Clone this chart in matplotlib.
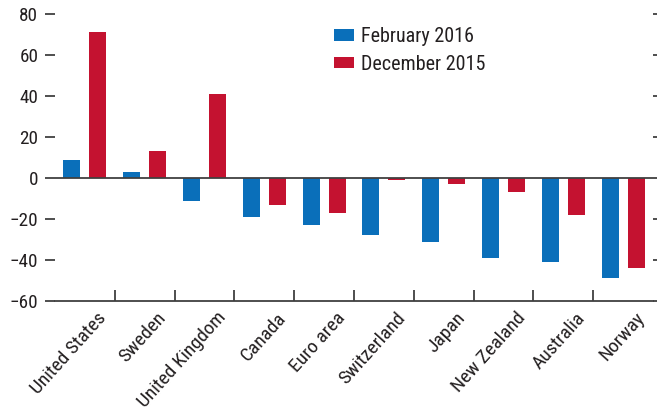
import matplotlib
matplotlib.use("Agg")
import matplotlib.pyplot as plt
import matplotlib.transforms as mtransforms
import numpy as np

categories = ["United States", "Sweden", "United Kingdom", "Canada", "Euro area",
              "Switzerland", "Japan", "New Zealand", "Australia", "Norway"]
feb_2016 = [9, 3, -11, -19, -23, -28, -31, -39, -41, -49]
dec_2015 = [71, 13, 41, -13, -17, -1, -3, -7, -18, -44]
yticks = [-60, -40, -20, 0, 20, 40, 60, 80]

plt.rcParams['font.family'] = ['Roboto Condensed', 'DejaVu Sans']
BLUE = "#0a6fba"
RED = "#c41230"
TXT = "#231f20"
LINE = "#404040"

fig = plt.figure(figsize=(6.57, 4.17), dpi=100)
ax = fig.add_axes([55/657, 1-301/417, (653-55)/657, (301-14)/417])

x = np.arange(len(categories))
w = 0.285
off = 0.217
ax.bar(x - off, feb_2016, w, color=BLUE, label="February 2016", zorder=2)
ax.bar(x + off, dec_2015, w, color=RED, label="December 2015", zorder=2)
ax.axhline(0, color=LINE, lw=1.3, zorder=3)

ax.set_xlim(-0.5, len(categories) - 0.5)
ax.set_ylim(-60, 80)

for s in ["top", "left", "right"]:
    ax.spines[s].set_visible(False)
ax.spines["bottom"].set_color(LINE)
ax.spines["bottom"].set_linewidth(1.3)

ax.set_yticks(yticks)
ax.tick_params(axis='y', which='major', direction='out', length=7, width=1.3,
               color=LINE, labelsize=13.8, labelcolor=TXT, pad=5, right=True)

ax.set_xticks(x)
ax.set_xticks(x[:-1] + 0.5, minor=True)
ax.tick_params(axis='x', which='major', length=0, labelsize=14, labelcolor=TXT, pad=2)
ax.tick_params(axis='x', which='minor', direction='in', length=8, width=1.3, color=LINE)
ax.set_xticklabels(categories, rotation=48, ha='right', rotation_mode='anchor')
shift = mtransforms.ScaledTranslation(12/100, -5/100, fig.dpi_scale_trans)
for lab in ax.get_xticklabels():
    lab.set_transform(lab.get_transform() + shift)

leg = ax.legend(loc='upper left', bbox_to_anchor=(334/657, 1-27/417),
                bbox_transform=fig.transFigure, frameon=False, fontsize=14.5,
                handlelength=1.0, handleheight=0.5, handletextpad=0.35,
                labelspacing=0.44, borderaxespad=0, borderpad=0)
for t in leg.get_texts():
    t.set_color(TXT)

fig.savefig("out.png", dpi=100)
